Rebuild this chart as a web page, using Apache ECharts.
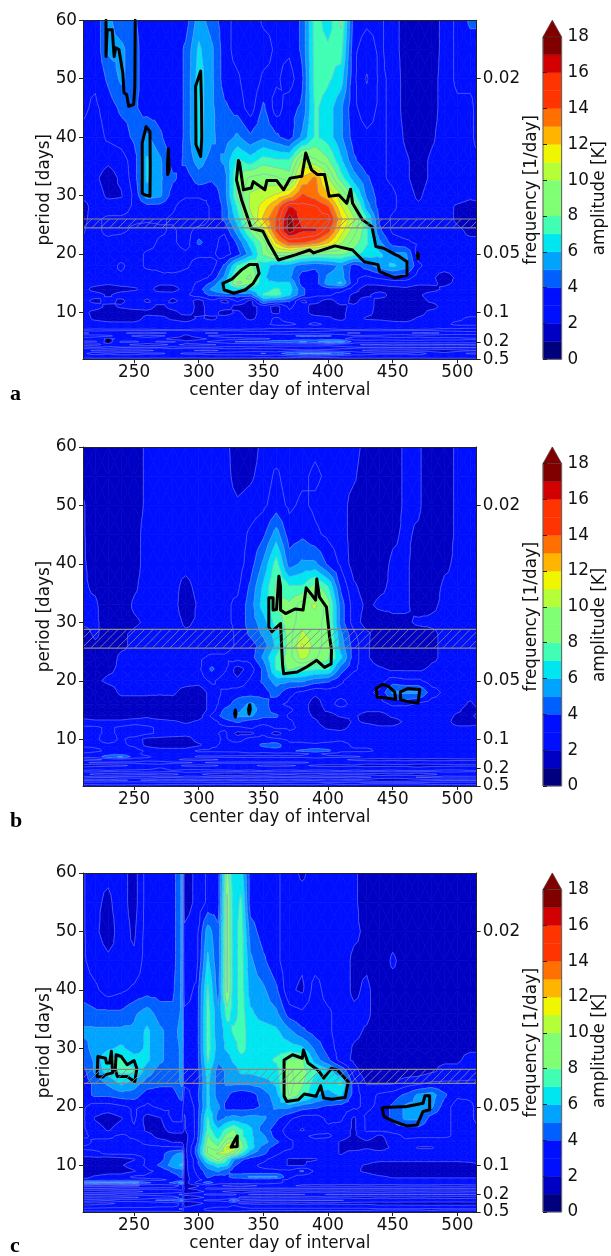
<!DOCTYPE html>
<html><head><meta charset="utf-8">
<style>html,body{margin:0;padding:0;background:#fff}#c{width:611px;height:1256px}</style>
<script src="https://cdn.jsdelivr.net/npm/echarts@6/dist/echarts.min.js"></script>
</head><body><div id="c"></div>
<script>
// ---- shared axes / tick data
const periodNodes=[60,55,50,45,40,36,33,30,28,26,24,22,20,18,16,15,14,13,12,11,10,9,8,7.5,7,6.5,6,5.5,5,4.5,4,3.5,3,2.5,2];
const dayNodes=[210,220,230,240,250,260,270,280,290,300,310,320,330,340,350,360,370,380,390,400,410,420,430,440,450,460,470,480,490,500,510,515];
const dayNodesC=[210,220,230,240,250,260,270,280,287,289,298,307,315,322,327,333,340,350,360,370,380,390,400,410,420,430,440,450,460,470,480,490,500,510,515];
const dayTicks=[250,300,350,400,450,500];
const periodTicks=[10,20,30,40,50,60];
const freqPeriods=[2,5,10,20,50];
const freqLabels=['0.5','0.2','0.1','0.05','0.02'];
const ampTicks=[0,2,4,6,8,10,12,14,16,18];
const levelColors=['#00007f','#0000c4','#0010ff','#0010ff','#0060ff','#00a4ff','#00e6f0','#40ffb4','#80ff74','#80ff74','#b4ff38','#f0f500','#ffb400','#ff7000','#ff3400','#ff3400','#d20000','#800000'];
const overValue=18.93;

// ---- panel a
const ampA=[
[3,3,5,4.5,4,3,3,3,3.5,5.5,4.5,3.5,2.5,2,3,3,3,4,7.5,6.5,8,3.5,3,3,2.5,1.5,1,1,2.5,3,4,4],
[3,3,5,5,4.5,3,3,3,4,6,5,3.5,2.5,2,2.5,3,3,4,7.5,7,7.5,3,2.5,3,2.5,1.5,1,1.2,2.5,3,3.5,3.5],
[3,3,4,5,4.5,3.2,3,3,4,6.5,5,3.5,3,2,3,3,2.5,3.8,7.5,7,6.5,3,1.9,3,2.8,1.5,1,1.5,2.5,3,3,3],
[3,2.8,3.5,4,4.2,3.5,3.5,3,4,6.5,5,4,3.6,2.5,4.2,2.5,3.6,4.2,7,6.5,5,3,2.5,3,2.8,1.5,1,1.5,2.5,2.8,2.8,3],
[2.8,2.5,3,3.5,4,5,4,3.2,4,6.5,5,4.5,5,4,4.8,4,3.5,5,7,6.5,5.2,3.5,3,3,2.8,1.8,1.2,1.8,2.5,2.8,2.8,3],
[2.5,2.5,2,2.5,3.5,6,5,3.5,4,5.5,4.5,5,7,6.5,7.5,7,7,10,9,8,6,4,3.2,3,2.8,2,1.5,2,2.5,2.8,2.8,2.8],
[2.5,2.2,1.5,2,3.5,6,5,4,3.5,4.5,4,4.5,8,9,9.5,9,8.5,12,13,10,7.5,5.5,4,3,2.8,2.2,1.5,2.2,2.5,2.5,2.5,2.5],
[2,2.5,1.8,1.9,3,5.5,5,3.5,3,3,3.2,4.5,8,10,10.5,11,12,14,13.5,12,10,7.5,4.8,3.5,3,2.5,1.8,2.5,2.5,2.5,2.2,2],
[1.5,2.5,2.5,2.5,3,3.5,3.5,3,2.2,2,3,4.2,7,10,11.5,13,16,15.5,15,14,11,9,5.5,3.5,3,2.5,2.2,2.5,2.5,1.8,1.6,1.8],
[1.5,2.8,3,3,3,3,3,2.8,2,2.2,3,4,6.5,9.5,12,14,17.5,15.5,15,15.5,12,10,7,3.8,2.8,2.5,2.5,2.5,2.5,1.8,1.5,1.5],
[1.8,2.8,3,3,2.8,2.5,2.8,3,2.5,3.5,3,3,5.5,8,10.5,14,17.5,16,16,14.5,11.5,9.5,7,4,2.8,2.5,2.5,2.5,2.5,2,1.8,1.8],
[2,2.8,2.8,2.5,2,2.5,3,3,2.5,4.2,3.5,2.5,4,6.5,8.5,12,14,14,13.5,12,10,8.5,7,5,3.5,3,2.8,2.5,2.8,2.2,2,2],
[2.5,2.8,2.5,2.5,2.5,3,3,3.5,3,3,3,2.5,3.5,5.5,8,9.5,9.5,8.5,8,8,8,7.5,6.5,6,5,5,2.5,2.5,2.5,2.5,2.5,2.5],
[2.5,2.5,2.5,3,2.5,3,3,3.8,3.2,2.5,2.5,4,7,8.5,6.5,5.5,5.5,4.5,4.2,4.5,5,3.5,4.5,5.5,6,5.5,3,2.5,2.5,2.5,2.5,2.5],
[2.5,2.5,2.8,2.8,2.5,2.5,2.8,2.5,2.5,2.5,3,5,8.5,9,6,5,5,3.5,3.5,5,5.5,3,2.8,3,3.5,3.5,2.5,2,1.5,2,2.5,2.5],
[2.5,2.5,2,2.5,2.5,2.5,2,2,2.5,3,4,6,9,8.5,6,6,6,3.5,3.5,5.5,6,3,2,2,2.5,2.5,2.2,2,1.8,2,2.5,2.5],
[2.5,1.5,1.2,1.5,1.8,2.5,1.5,1.6,2.4,3.5,5,6,6.5,6,6.5,7,6.5,4,3,3.5,3.5,2.4,1.4,1.6,1.6,1.8,1.5,1.6,2.2,2.5,2.5,2.5],
[2.5,2.6,1.8,2.6,2.6,2.4,2.6,2.4,2.8,3.5,4,4.5,4.5,4.5,7,7.5,6,4,3,3,2.5,1.8,1.8,2.5,1.6,1.6,1.8,2.5,2.5,2.5,2.5,2.5],
[2.5,1.6,2.5,1.7,2.8,1.8,2.8,1.7,2.5,1.6,2.8,1.6,3,1.7,5,4.5,4,1.8,2.5,1.5,2.5,1.7,2.5,1.6,1.7,1.4,1.6,2.2,2.5,2.8,2.8,2.8],
[2.5,2.6,1.6,2.2,2.6,2.6,1.6,2.5,2.8,1.6,2.5,2.6,1.6,1.5,2.5,1.6,3,2.5,1.5,1.3,1.8,2.2,2.5,1.6,1.3,1.7,1.6,1.5,2.5,2.8,2.8,2.8],
[2.5,1.5,1.2,1.3,1.3,1.6,1.3,1.6,2.5,1.6,2.5,1.5,2.2,1.5,2.5,1.7,2.8,2.5,1.5,1.5,1.7,2.5,2.5,1.4,1.5,1.5,1.4,2.5,2.5,2.5,2.5,2.5],
[2.8,1.6,1.3,1.2,1.2,2.5,2.5,1.7,1.3,2.2,1.7,2.5,2.5,1.7,2.5,3,2.5,2.5,2.5,2.2,1.6,2.8,1.8,1.7,1.5,1.3,2.2,2.5,2.8,2.8,3,3],
[2.8,2.8,2.5,2.5,2.5,2.8,2.5,2.8,2.5,2.8,2.8,2.5,2.8,2.8,2.8,3,3,2.8,3,2.8,2.8,2.5,2.8,2.8,2.5,2.5,2.8,2.8,2.8,3,3,3],
[2.2,2.4,2.6,2.6,2.6,2.4,2.2,2.4,2.6,2.4,2.4,2.6,2.4,2.2,2.4,2.6,2.6,2.4,2.6,2.6,2.4,2.2,2.4,2.6,2.2,2.2,2.4,2.6,2.6,2.6,2.6,2.6],
[3.3,3.4,3.2,3.2,3.2,3.3,3.2,3.1,3.1,3.3,3.2,3.2,3.2,3.4,3.4,3.6,3.6,3.4,3.4,3.3,3.2,3.2,3.2,3.2,3.2,3.2,3.2,3.2,3.4,3.4,3.6,3.6],
[1.8,2.2,2.4,2.2,1.7,1.6,1.8,2.2,2.4,2.2,1.8,2.2,2.4,2.4,2.4,2.6,2.4,2.4,2.6,2.4,2.2,1.8,2.2,2.4,2.4,2.2,1.8,1.7,2.2,2.4,2.4,2.4],
[3.6,3.4,3.2,2.6,3.1,3.4,3.2,2.7,1.8,2.4,3.2,3.4,3.6,3.6,3.7,3.7,3.8,4.2,4.1,4.1,3.7,3.2,3.2,3.2,3.4,3.6,3.4,3.6,3.6,3.6,3.6,3.6],
[2.4,2.4,1.8,2.2,2.4,2.6,2.4,1.6,1.5,1.7,2.2,2.6,2.6,2.8,2.8,3.2,3.2,3.4,3.4,3.4,3.2,2.6,2.4,2.6,2.6,2.4,2.4,2.6,2.6,2.6,2.8,2.8],
[3.2,3.2,1.5,3.2,3.2,2.6,3.2,3.2,2.2,2.6,3.2,3.6,4.1,4.2,4.2,4.6,4.6,5.1,4.8,5.6,5.6,3.6,3.6,3.6,3.6,3.6,3.6,3.6,3.6,3.6,3.6,3.6],
[1.6,1.7,2.4,2.4,1.8,1.6,1.7,2.2,1.8,1.8,1.9,2.2,2.4,2.4,2.4,2.6,2.4,2.4,2.4,2.6,2.4,2.2,1.8,1.9,1.7,1.8,1.8,1.8,1.9,1.9,1.8,1.8],
[3.4,3.2,3.4,3.1,3.2,3.2,3.1,3.4,3.2,3.2,3.2,3.4,3.4,3.2,3.4,3.4,3.6,3.7,3.7,3.7,3.4,3.2,3.1,3.2,3.1,3.2,3.1,3.1,3.1,3.1,3.1,3.1],
[2.4,1.8,1.7,1.6,1.7,1.8,2.2,2.4,2.2,1.9,1.8,2.2,2.4,2.6,2.4,2.4,2.6,2.8,2.8,2.6,2.4,2.4,1.8,1.7,1.6,1.6,1.7,1.6,1.5,1.7,1.9,1.9],
[2.7,3.6,3.2,3.6,3.6,3.2,3.2,2.7,3.2,3.2,3.6,3.6,3.6,3.6,4.1,3.6,4.6,5.1,5.1,5.1,4.6,3.8,3.6,3.2,3.2,3.2,3.6,2.6,2.2,2.6,3.2,3.2],
[2.4,2.2,2.2,2.4,2.2,2.2,2.4,2.2,2.4,2.4,2.2,2.4,2.4,2.4,2.6,2.4,2.6,2.8,2.8,2.6,2.4,2.2,2.4,2.2,2.4,2.2,2.4,2.2,2.2,2.2,2.2,2.2],
[3.5,3.5,3.5,3.5,3.5,3.5,3.5,3.5,3.5,3.5,3.5,3.5,3.5,3.5,3.5,3.5,3.5,3.5,3.5,3.5,3.5,3.5,3.5,3.5,3.5,3.5,3.5,3.5,3.5,3.5,3.5,3.5]];
const bandA=[24.5,26];
const contoursA=[
[[228.3,60],[228.3,53.8],[229.2,58.4],[233.1,58.4],[234.6,53.8],[235.8,55.3],[238.3,55],[241.3,51],[242.2,47.6],[244.3,47.3],[245.8,45.3],[249.7,45.6],[250.6,48.7],[250.9,60]],
[[259.3,41.8],[262.3,41],[262.5,35],[262.3,29.9],[258.4,30.1],[256.3,30.4],[256.3,39],[259.3,41.8]],
[[276.5,38],[275.8,35],[276,33.6],[277.2,34.5],[276.5,38]],
[[301.5,51.3],[302.1,46.4],[302.4,40.1],[301.5,36.7],[297.9,38.7],[297.6,48.7],[301.5,51.3]],
[[330.7,36],[329.2,32.7],[333.1,29.3],[336.7,27],[340.7,24.4],[349.7,23.9],[354.2,21.9],[361.7,19],[375.3,19.9],[385.8,20.7],[388.9,20.2],[405.4,21.4],[419,20.7],[428,18.7],[438.6,18.2],[440,17],[452.1,15.9],[461.1,16.4],[461.1,18.7],[455.1,19.6],[452.1,19.9],[443.1,21],[437,21.3],[434,24.7],[426.5,25.9],[419,28.7],[417.5,31.1],[414.5,28.7],[408.4,30.1],[400.9,29.9],[397.3,33.6],[391.9,33.6],[387.3,34.4],[382.8,37.3],[379.8,33.3],[370.8,33],[365.7,31],[360.2,32.6],[352.7,32.6],[351.2,31],[342.2,32.4],[340.7,31.3],[334.6,31],[331.6,35.6],[330.7,36]],
[[318.7,15],[325.6,15.7],[333.1,17.3],[339.2,18.2],[345.2,18.2],[346.7,16.7],[342.2,15],[336.1,13.9],[327.1,13.3],[319.6,13.9],[318.7,15]],
[[469.5,20.2],[470,19.7],[469.6,19.2],[469.2,19.7],[469.5,20.2]],
[[230,5.3],[230.4,5.2],[230,5.1],[229.6,5.2],[230,5.3]]];

// ---- panel b
const ampB=[
[1.5,1.2,1.2,1.2,1.5,2,2.2,2.5,2.5,2.5,2.5,2.5,1.2,1.2,2.5,2.5,2.5,2.5,2.8,2.5,2.5,2.5,1.5,1.2,1.5,2,2,1.2,1.5,2,2.5,2.8],
[1.5,1.2,1.2,1.2,1.5,2,2.2,2.5,2.5,2.5,2.5,2.5,1.5,1.8,2.5,3,2.5,2.8,3,2.8,2.5,2.2,1.2,1.2,1.5,2,2,1.2,1.5,2,2.5,2.8],
[2,1.2,1.2,1.2,1.5,2.2,2.5,2.5,2.5,2.8,2.5,2.5,2,2.5,2.8,3.5,2.8,3,2.8,2.5,2.5,1.5,1.2,1.2,1.5,2,2,1.2,1.5,2,2.5,2.8],
[2,1.2,1.2,1.2,1.5,2.5,2.5,2.5,2.5,2.8,2.8,2.5,2.5,3,3.8,5.5,3.5,3.8,3.2,2.8,2.5,1.5,1.2,1.2,1.8,2,1.8,1.2,1.5,2,2.5,2.8],
[2,1.5,1.2,1.2,1.5,2.5,2.5,2.5,2.5,2.8,2.8,2.8,2.5,3.5,5,7.5,4.5,5,5,3.8,2.8,1.5,1.2,1.5,2,2,1.5,1.2,1.8,2.2,2.5,2.8],
[2,1.8,1.2,1.2,1.8,2.5,2.5,2.5,1.5,2.5,2.5,2.8,2.8,4,6,8,7,7,8.5,7,3.8,2,1.5,1.8,2,2,1.5,1.5,2,2.2,2.5,2.8],
[2.2,2,1.2,1.2,2,2.5,2.5,2.5,1.2,2.2,2.8,2.8,3,4.5,6.5,8,8,9.5,10,8.5,4.5,2.5,1.8,2,2,2,1.5,1.8,2,2.2,2.5,2.8],
[2,2.2,1.5,1.5,1.8,2,2.5,2.5,1.8,2,2.5,2.8,3,4.5,5.5,7.5,8.5,9.5,9.5,8.5,4.5,2.5,1.5,1.5,1.8,1.8,2,2,2.2,2.5,2.5,2.8],
[1.5,2,1.5,1.8,2,2.5,2.5,2.5,2.2,2.2,2.5,2.5,3,4,5,6.5,8.5,10,9.5,8.5,5,3,2,1.5,1.5,1.5,1.5,1.8,2,2.5,2.5,2.5],
[1.2,1.8,1.5,1.8,2.2,2.5,2.5,2.5,2.5,2.5,2.5,2.5,3,3.5,4.5,6,8.5,11,9.5,8.5,5.5,3.5,2,1.2,1.2,1.2,1.5,1.8,2.2,2.5,2.5,2.5],
[1.2,1.5,1.5,2,2.2,2.5,2.5,2.5,2.5,2.8,3,3.2,3.5,3.5,5,7,8.5,10.5,9,8,6,3.5,2,1.2,1.2,1.2,1.2,1.8,2.2,2.5,2.5,2.5],
[1.2,1.5,1.8,2,2.2,2.5,2.5,2.5,2.5,2.8,4,3,1.5,2.5,4,7,8,7.5,7,7,4.5,3,2.5,2,1.8,1.8,1.8,2,2.2,2.5,2.5,2.5],
[1.8,1.8,2,2.2,2.5,2.5,2.5,2.5,2.5,2.5,3,2.5,2,3,4,5.5,5,5,4.5,4,3,2,2.5,2.5,3.5,3.2,3,2.5,2.5,2.5,2.5,2.5],
[1.5,1.2,1.5,2,2,2,2,2,1.5,1.2,2.5,3,3.5,3.5,3.5,4.5,3,2.8,2,2.5,2.5,2.5,2.8,3,5,5,5,3.5,2.8,2.5,2.5,2.5],
[1.2,1.2,1.2,1.5,1.5,1.5,1.2,1.5,1.2,1.2,2.5,3.5,4.5,5,4.5,3,2.8,2.5,1.5,2.5,3.5,2.5,2.5,2.5,3,3,2.8,2.5,2.5,2.5,1.8,2],
[1.2,1.2,1.2,1.5,1.5,1.2,1.2,1.2,1.2,1.2,2.5,4,4.8,5.5,4.5,3.5,3,2.5,1.5,2,2.5,2.5,2,2,2.5,2.5,2.5,2.5,2.5,2,1.5,1.8],
[1.5,1.5,1.5,1.5,1.5,1.8,1.2,1.2,1.2,1.5,3,4.5,5,5,4,4.2,2.8,2.5,1.8,1.5,2,2.2,1.5,1.5,2,2.5,2.5,2.5,2.5,1.8,1.8,2],
[2.5,2,2,2,2.5,2.5,2.5,2,1.8,2,2.5,3.5,4,3.5,3.5,3.5,3,2.5,2,1.2,1.2,2,1.8,1.5,1.5,2.2,2.5,2.5,2.5,1.5,1.5,1.8],
[3,3,2.8,3,3.5,3,2.8,2.5,2.5,2.5,2.8,2.8,2.8,3,2.5,3,3,2.8,2.5,1.8,1.5,2.5,2.5,2,2.2,2.5,2.8,2.8,2.5,2.2,2,2],
[3,3,2.8,3.2,3.8,3,2.8,2.8,2.5,2.5,2.8,3,1.7,1.7,2.8,1.5,2.8,2.8,2.5,2.5,2.5,2.8,2.8,2.5,2.5,2.8,2.8,2.5,2.5,2.5,2.5,2.5],
[3,3,2.5,3,2.5,1.7,1.6,1.4,1.4,2.5,2.5,3,2.5,3.5,3.5,3,2.8,2.8,2.5,2.5,2.8,2.5,2.5,2.5,2.5,2.5,2.8,2.2,2.5,2.8,2.5,2.5],
[3,3,3,3,2.8,1.7,1.4,1.4,1.4,1.8,2.8,3,3.5,3.5,4.2,4.5,3,3,3,3.5,3.5,2.8,2.8,2.8,2.5,2.5,2.5,2.5,2.5,2.5,2.5,2.5],
[2.5,2.8,3,3.5,3.5,2.8,2.5,2.5,2.5,3,3,3,3,3.5,3.5,3.5,3.8,4,4.5,4,3.2,3,3,2.8,2.5,2.5,2.5,2.5,2.5,2.5,2.5,2.5],
[3.2,3.4,3.6,3.6,3.4,2.6,2.4,2.4,2.4,2.6,2.4,2.6,2.6,2.8,2.6,2.8,2.6,2.8,3.2,2.8,2.6,2.4,2.4,2.2,2.2,2.2,2.4,2.2,2.2,2.2,2.2,2.2],
[3.5,3.5,4.5,5,3.5,3,2.5,2.5,2.5,3,3,3,3,3,3,3.2,3,3,3.5,3.2,3,3,2.8,2.5,2.5,2.5,2.5,2.5,2.5,2.5,2.5,2.5],
[1.6,1.8,2.2,2.4,2.4,2.6,2.4,2.2,1.8,1.7,1.8,2.2,2.4,2.4,2.2,2.4,2.4,2.2,2.4,2.4,2.2,1.8,1.7,1.7,1.8,1.7,1.8,1.7,1.7,1.8,1.8,1.8],
[2.8,3,3,3.2,3,3.5,3.5,3,3,2.8,3,3,3,3.2,3,3,3,3,2.8,2.8,2.8,2.8,2.5,2.5,2.5,2.5,2.5,2.5,2.5,2.5,2.5,2.5],
[1.5,1.6,1.7,1.8,2.2,2.4,2.6,2.4,1.8,1.7,1.8,2.2,2.2,2.2,1.8,1.7,1.8,2.2,1.8,1.7,1.7,1.8,1.5,1.6,1.7,1.8,1.5,1.6,1.7,1.8,1.8,1.8],
[2.6,2.7,2.8,2.8,2.8,2.8,3.1,2.8,2.8,2.8,2.8,2.8,2.8,2.8,2.6,2.8,2.8,2.8,2.8,2.6,2.6,2.8,2.8,2.8,2.8,2.4,2.4,2.8,2.8,2.8,2.8,2.8],
[3.2,3.3,3.1,3.2,3.2,3.4,3.2,3.1,3.3,3.3,3.2,3.2,3.1,3.2,3.1,3.2,3.2,3.1,3.2,3.3,3.1,3.2,3.1,3.1,3.2,3.2,3.2,3.1,3.2,3.2,3.1,3.1],
[2.4,1.7,1.5,1.6,1.7,1.8,1.6,1.7,2.4,2.2,1.5,1.3,1.2,1.5,1.5,1.8,1.9,1.5,1.5,1.8,1.7,1.8,1.7,1.6,1.8,1.7,1.3,1.7,2.4,2.2,2.2,2.2],
[3.4,3.2,3.2,3.4,3.4,3.6,3.2,3.2,3.4,3.4,3.2,3.2,3.4,3.2,3.4,3.2,3.2,3.4,3.2,3.2,3.2,3.4,3.2,2.6,2.4,2.6,3.1,3.2,3.4,3.4,3.4,3.4],
[1.8,1.7,1.6,1.8,2.2,1.8,1.6,1.7,1.6,1.8,1.7,1.6,1.8,1.7,1.8,1.6,1.6,1.7,1.8,1.5,1.6,1.7,1.5,1.2,1.2,1.3,1.5,1.7,1.8,1.8,1.8,1.8],
[3.6,3.6,3.8,3.8,3.6,3.8,3.6,3.5,3.5,3.6,3.4,3.4,3.6,3.5,3.4,3.6,3.4,3.6,3.6,3.2,3.4,3.6,3.2,3.2,3.2,3.2,3.2,3.4,3.5,3.6,3.6,3.6],
[2.5,2.5,2.5,2.5,2.5,2.5,2.5,2.5,2.5,2.5,2.5,2.5,2.5,2.5,2.5,2.5,2.5,2.5,2.5,2.5,2.5,2.5,2.5,2.5,2.5,2.5,2.5,2.5,2.5,2.5,2.5,2.5]];
const bandB=[25.6,28.8];
const contoursB=[
[[354.2,34.2],[357.5,34.2],[357.5,32.1],[360.2,32.2],[362,37.9],[363.3,36.1],[363.3,32.1],[367.2,31.5],[374.7,32.3],[380.7,32.1],[383.1,35.9],[386.7,34.9],[390.4,33.8],[391.3,37.4],[393.4,34.3],[398.8,32.6],[401.2,27.5],[402.7,25.2],[402.4,22.9],[397.3,22.3],[391.3,23.5],[383.7,22.4],[376.2,21.5],[365.7,21.2],[364.8,22.9],[363.3,29.8],[356.6,28.4],[354.2,29.2],[354.2,34.2]],
[[437.3,18.7],[442.5,19.4],[447,19],[451.5,18.1],[452.4,16.8],[444,17.1],[438,17.2],[437.3,18.7]],
[[456,18.1],[462,18.7],[471,18.5],[469.6,16.2],[462,16.4],[456,16.8],[456,18.1]],
[[328.3,15],[328.8,14.4],[328.3,13.8],[327.8,14.4],[328.3,15]],
[[339.5,15.9],[339.9,15.1],[339,14.3],[338.5,15.1],[339.5,15.9]]];

// ---- panel c
const ampC=[
[3,2,2,2.5,1.5,3.5,3.5,3.5,5,1.5,2,3,3.5,8.5,6,6.5,3.5,3,3,2.5,1.8,2.5,2.5,2.5,2,1.5,1.2,1.2,1.2,1.2,1.2,1.2,1.5,1.5,1.5],
[3,2,1.8,2.5,1.5,3.5,3.5,3.5,5,1.5,2,3,3.5,9,6.5,7,3.5,3,3,2.5,2.5,2.5,2.5,2.5,2,1.5,1.2,1.2,1.2,1.2,1.2,1.2,1.5,1.5,1.5],
[3,2,1.5,2.5,1.8,3.5,3.5,3.5,5,2,2.5,5.5,4,9,6.5,7.5,4.5,3.5,3,2.5,2.5,2.5,2.5,2.5,2,1.8,1.2,1.5,1.2,1.2,1.2,1.2,1.5,1.5,1.5],
[3,2.5,2,2.2,2,3.5,3.5,3.5,5,2,2.5,6,4,9,6.5,7.5,5,4.2,3.2,2.5,2.2,2.5,2.5,2.5,1.8,1.8,1.2,2,1.5,1.5,1.2,1.2,1.5,1.8,1.8],
[3.5,3,2.5,2.8,3,3.5,3.5,3.8,5,2.5,3,7,4.5,9,6.5,7.5,5.5,5,4,2,1.8,3.5,2.5,2.5,1.8,2,1.5,1.5,1.5,1.5,1.2,1.2,1.5,1.9,1.9],
[4.5,4,4,4.2,4.8,5.5,4.5,4,5,3,3,7.5,5,7.5,6.5,7.5,6,5.5,5,3.5,3,3.5,3,2.5,2,2.2,1.5,1.5,1.5,1.5,1.5,1.5,1.5,1.9,1.9],
[5,5,5,5,5,6,5,4.5,5.5,3,3,7.5,5,6.5,7,7.5,6.5,6.5,6,5,4,3.5,3,2.5,2,1.9,1.5,1.5,1.5,1.5,1.5,1.8,1.8,1.9,1.9],
[4.5,5.5,5.8,6,5.5,6,5,4.5,5,3,3,7.5,5.5,6,6.5,7.5,6.5,6.5,6.5,6.5,6,4.8,3.5,2.5,1.9,1.8,1.5,1.5,1.5,1.5,1.8,1.8,1.9,1.9,1.9],
[4,5,7,7,6.5,6,5,4.5,5,3,3,7,5,5.5,6,6.5,6.5,6.5,7,8,8,5.5,4,2.5,1.8,1.2,1.2,1.5,1.5,1.5,1.9,1.9,1.9,2.2,2.2],
[3.5,5,6.5,7,7,5.5,4.5,4.5,5,3,3,6.5,4.5,5,5.5,6,6,6.5,6.5,9,8.5,7,6.5,5,2.5,1.2,1.2,1.5,1.5,1.5,1.9,2.2,2.2,2.5,2.5],
[3.5,4,5,6,5.5,4.5,4,4,5,3,3,6,4.5,5,5,5,5,5.5,6,9.5,8,6.5,6.5,7,3.5,1.9,1.9,1.9,2.5,2.8,3,3,3,3,3],
[3.5,4,4,4.5,4.5,3.5,3.5,3.5,4.5,2.5,3.5,6,4.5,4,3.5,3,3.5,4.5,5.5,9,7.5,6,5.5,6,3.5,2.5,3,3.5,4,5,5.5,4,3,3,3],
[3,2.5,2.5,2.8,3,2.8,3,3,3.5,2,3,6,5,3.5,3.5,3.5,3.5,4,5,5,4.5,4,3.8,3.5,3,2.8,3,4,5,5,5,3.5,2.5,2.8,3],
[3,1.9,1.5,1.9,3,1.5,1.9,3,3,1.9,3,7,4.5,5,5.5,5,5.5,5,4,3,2.5,2.5,3,3,1.8,3,3.5,4,5,5,3.5,3,2.8,2.8,3],
[3,2.5,1.9,2.5,2.8,1.8,1.5,2.5,2.5,1.9,3,7.5,6,7.5,8,7,6,4.5,3.5,2.5,1.9,2.5,2.8,2.5,1.8,3,3,3.5,3.5,3.5,3,3,2.8,2.5,2.8],
[3,2.8,2.8,3,2.8,2.5,1.5,1.5,1.5,1.5,3,8,6.5,8.5,8.5,7,6,5,3.5,2.8,2.8,3,3,2.5,1.8,2.5,1.8,2.5,3,3,3,3,2.8,2.5,2.5],
[2.5,3,3,3,3,2.8,2.5,1.9,1.9,1.5,3.5,8.5,7.5,9.5,10,8,6,5.5,4,3,2.5,2.8,2.5,1.9,1.5,1.9,1.5,2.5,2.8,2.5,2.5,2.5,2.5,2.5,2.5],
[3,3,3,3,3,3,3,3.2,3.2,1.5,4,9,8,11,11,8.5,6.5,4.5,3.5,3,2.5,2.5,2.5,1.9,1.5,1.9,1.5,2.2,2.5,1.9,1.9,2.5,2.5,2.5,2.5],
[2.5,2.8,3,3,3,3.5,3.5,4.8,5,1.5,4,9,10,10,9,7,5,4,3,2.5,2.5,2.5,2.5,1.9,2.5,2.5,2.5,2.5,2.5,2.5,2.5,2.5,2.5,2.5,2.5],
[1.5,1.5,1.2,1.5,1.9,3,3.5,5,5.5,1.5,3.5,7,9,7,5,4,3.5,3,2.5,1.9,1.9,1.9,2.5,2.5,2.5,2.5,2.5,2.5,2.5,2.5,2.5,2.5,2.5,2.5,2.5],
[1.5,1.2,1.5,1.9,2.5,3,4,5.5,6,1.5,3.5,5.5,6.5,6,4,3.5,3,2.8,2.5,1.9,1.9,2.5,2.5,2.5,2.2,1.9,1.2,1.2,1.2,1.2,1.2,1.2,1.2,1.5,1.8],
[1.2,1.2,1.5,1.5,1.9,2.8,3.2,4,4.5,1.5,3,4.5,5,4,3.5,3.5,3.2,3,3,3,4,2.8,2.5,2.5,2.2,1.8,1.2,1.2,1.2,1.2,1.2,1.2,1.2,1.9,1.9],
[1.5,2.2,2.5,2.5,3,3,3.5,3.5,4,1.5,2.8,4,3.5,3.8,4.5,4.5,5,5,5,3,2.5,2.5,2.5,2.5,2.5,2.5,2.2,1.9,1.9,1.9,1.9,1.9,1.9,1.9,1.9],
[2.4,2.4,2.6,2.6,2.6,2.8,2.8,3.2,3.4,1.5,2.6,3.4,3.2,3.2,3.2,3.2,3.4,3.4,3.2,2.8,2.4,2.4,2.4,2.4,2.2,2.2,2.2,2.2,2.2,2.2,2.2,2.2,2.2,2.2,2.2],
[5.5,5.5,5,5.5,5.5,4,3.5,4,5.5,1.5,3,4.5,3.5,3.5,3.5,3.5,3.5,3.5,3,2.8,2.5,2.5,2.5,2.5,2.5,2.5,2.5,2.5,2.5,2.5,2.5,2.5,2.5,2.5,2.5],
[1.6,1.5,1.5,1.6,1.7,2.4,2.6,2.6,3.2,1.5,1.8,2.6,2.2,1.8,1.6,1.5,1.8,2.2,2.2,2.2,1.8,1.7,1.8,1.7,1.7,1.8,1.7,1.7,1.8,1.8,1.8,1.7,1.7,1.8,1.8],
[3.2,3.2,3.2,3.5,3.5,3,3,3,3.5,1.9,2.2,3,3.2,3.2,3.2,3.2,3.2,3.2,3.2,3.2,3.2,3.2,3.2,3.2,3.2,3.2,3.2,3.2,3.2,3.2,3.2,3.2,3.2,3.2,3.2],
[1.5,1.5,1.6,1.7,1.6,2.2,2.4,2.4,2.6,1.4,1.6,2.2,2.2,1.8,1.5,1.4,1.7,1.8,1.7,1.6,1.7,1.8,1.7,1.8,1.7,1.7,1.6,1.7,1.7,1.8,1.7,1.7,1.7,1.8,1.8],
[3.2,3.2,3.2,3.6,3.3,3.3,3.3,3.6,4.2,2.2,2.6,3.2,3.2,3.2,3.2,2.6,3.1,3.1,3.1,3.1,3.1,2.6,3.1,3.1,3.1,3.1,3.1,3.1,3.1,3.1,3.1,3.1,3.1,3.1,3.1],
[1.7,1.7,1.6,1.7,1.8,2.4,2.6,2.6,3.2,1.4,1.6,2.2,2.2,2.2,2.4,1.8,1.7,1.8,1.7,1.8,1.7,1.7,1.8,1.7,1.7,1.6,1.8,1.7,1.7,1.8,1.7,1.7,1.6,1.7,1.7],
[3.6,3.4,3.2,3.6,3.6,3.6,4.2,4.2,5.2,2.2,2.6,3.2,3.2,3.6,5.2,3.6,3.4,3.2,3.2,3.2,3.1,3.1,3.1,3.1,2.6,2.6,2.6,2.6,2.6,2.6,2.6,2.6,2.6,2.6,2.6],
[1.7,1.8,1.8,2.2,2.2,2.4,2.4,2.6,3.2,1.4,1.7,2.2,2.4,2.2,2.4,1.8,1.8,1.7,1.8,1.8,1.7,1.8,1.8,1.7,1.7,1.7,1.6,1.7,1.6,1.6,1.5,1.6,1.5,1.6,1.6],
[2.2,2.2,2.5,2.5,2.5,2.5,2.8,2.8,3.2,1.8,2.2,2.5,2.8,2.8,3.2,2.8,2.5,2.5,2.5,2.5,2.5,2.5,2.5,2.5,2.5,2.5,2.2,2.2,2.2,2.2,2.2,2.2,2.2,2.2,2.2],
[3.3,3.4,3.4,3.5,3.5,3.6,3.6,3.6,4.2,2.4,2.6,3.2,3.4,3.4,3.6,3.4,3.2,3.2,3.2,3.2,3.2,3.2,3.2,3.2,3.2,3.2,3.1,3.1,3.1,3.1,3.2,3.1,3.1,3.1,3.1],
[2.8,2.8,2.8,2.8,2.8,2.8,2.8,2.8,2.8,2.8,2.8,2.8,2.8,2.8,2.8,2.8,2.8,2.8,2.8,2.8,2.8,2.8,2.8,2.8,2.8,2.8,2.8,2.8,2.8,2.8,2.8,2.8,2.8,2.8,2.8]];
const bandC=[24,26.4];
const contoursC=[
[[221.4,25.2],[222,28.6],[228,28.3],[228.6,27.5],[231,27.5],[232.5,29.5],[233.4,25.8],[228,25.5],[225.6,25.1],[221.4,25.2]],
[[236.1,28.9],[240.1,28.6],[244.6,27.2],[250,27.9],[252.1,26.6],[250.6,24.3],[244.6,25.2],[237,25.2],[235.5,26.3],[236.1,28.9]],
[[366,28],[372.6,28.9],[380.1,28.3],[381,29.7],[384.6,27.5],[392.2,26.3],[396.7,24.9],[402.7,26.6],[407.2,26.3],[415.7,24.3],[413.3,21.6],[402.7,21.3],[396.7,21.5],[394.3,23.6],[390.7,21.8],[381.6,22.2],[377.1,21.2],[368.1,20.9],[366,21.8],[366,28]],
[[443.4,19.9],[456.9,20],[459.9,20],[473.5,20.6],[475,21.9],[478.6,21.9],[478.6,19.5],[473.5,19.2],[469,16.9],[461.4,16.7],[450.9,17.5],[443.4,18.3],[441.9,19.8],[443.4,19.9]],
[[329.8,15],[329.8,13.2],[325,13.1],[327.4,14.1],[329.8,15]]];

// ---- layout
const plotLeft=83,plotWidth=393.7,plotHeight=339,barLeft=543,barWidth=18.6,barInset=16.6;
const panelTops=[20.3,447,873];
const panelNames=['a','b','c'];
const letterTops=[383,810,1235];
const FONT='"DejaVu Sans"',FS=16.8,TXT='#111';

// a value sitting exactly on a contour level would hug the grid, so nudge it just off
const offLevel=v=>Number.isInteger(v)?v+0.2:v;

function clip(poly,level,keepAbove){
  const out=[];
  for(let i=0;i<poly.length;i++){
    const a=poly[i],b=poly[(i+1)%poly.length];
    const ina=keepAbove?a[2]>=level:a[2]<=level, inb=keepAbove?b[2]>=level:b[2]<=level;
    if(ina)out.push(a);
    if(ina!==inb){const t=(level-a[2])/(b[2]-a[2]);out.push([a[0]+t*(b[0]-a[0]),a[1]+t*(b[1]-a[1]),level]);}
  }
  return out;
}
function contourCell(tri,api,kids){
  const vs=tri.map(p=>p[2]),mn=Math.min.apply(null,vs),mx=Math.max.apply(null,vs);
  for(let k=Math.max(0,Math.floor(mn));k<levelColors.length&&k<=mx;k++){
    let poly=clip(tri,k,true); if(poly.length<3)continue;
    poly=clip(poly,k+1,false); if(poly.length<3)continue;
    const pts=poly.map(p=>api.coord([p[0],p[1]]));
    kids.push({type:'polygon',silent:true,shape:{points:pts},style:{fill:levelColors[k],stroke:levelColors[k],lineWidth:.7}});
  }
  for(let l=Math.ceil(mn);l<=mx;l++){
    if(l<=0)continue;
    const seg=[];
    for(let i=0;i<3;i++){
      const a=tri[i],b=tri[(i+1)%3];
      if((a[2]<l)!==(b[2]<l)){const t=(l-a[2])/(b[2]-a[2]);seg.push(api.coord([a[0]+t*(b[0]-a[0]),a[1]+t*(b[1]-a[1])]));}
    }
    if(seg.length===2)kids.push({type:'line',silent:true,z2:5,shape:{x1:seg[0][0],y1:seg[0][1],x2:seg[1][0],y2:seg[1][1]},style:{stroke:'rgba(140,150,245,0.7)',lineWidth:.7}});
  }
}
function heatSeries(g,xs,ys,amp){
  const cells=[];
  for(let j=0;j<ys.length-1;j++)for(let i=0;i<xs.length-1;i++)cells.push([xs[i],ys[j],i,j]);
  return {type:'custom',xAxisIndex:g.x,yAxisIndex:g.y,clip:true,silent:true,z:2,animation:false,data:cells,
    renderItem(p,api){
      const i=api.value(2),j=api.value(3);
      const A=[xs[i],ys[j],offLevel(amp[j][i])],B=[xs[i+1],ys[j],offLevel(amp[j][i+1])],C=[xs[i+1],ys[j+1],offLevel(amp[j+1][i+1])],D=[xs[i],ys[j+1],offLevel(amp[j+1][i])];
      const M=[(A[0]+B[0])/2,(A[1]+D[1])/2,(A[2]+B[2]+C[2]+D[2])/4];
      const kids=[];
      [[A,B,M],[B,C,M],[C,D,M],[D,A,M]].forEach(t=>contourCell(t,api,kids));
      return {type:'group',children:kids};
    }};
}
function hatchSeries(g,band,x0,x1){
  return {type:'custom',xAxisIndex:g.x,yAxisIndex:g.y,clip:true,silent:true,z:4,animation:false,data:[[x0,band[0],x1,band[1]]],
    renderItem(p,api){
      const a=api.coord([api.value(0),api.value(3)]),b=api.coord([api.value(2),api.value(1)]);
      const h=b[1]-a[1],kids=[];
      for(let x=a[0]-h;x<b[0];x+=8.8)kids.push({type:'line',shape:{x1:x,y1:b[1],x2:x+h,y2:a[1]},style:{stroke:'rgba(135,135,135,0.85)',lineWidth:1}});
      kids.push({type:'line',shape:{x1:a[0],y1:a[1],x2:b[0],y2:a[1]},style:{stroke:'#8a8a8a',lineWidth:1.2}});
      kids.push({type:'line',shape:{x1:a[0],y1:b[1],x2:b[0],y2:b[1]},style:{stroke:'#8a8a8a',lineWidth:1.2}});
      return {type:'group',children:kids};
    }};
}

const grids=[],xAxes=[],yAxes=[],series=[],graphics=[];
const label={fontFamily:FONT,fontSize:FS,color:TXT};
function addPanel(n,xs,amp,band,contours){
  const top=panelTops[n],gi=grids.length;
  const xMin=210.5,xMax=515;
  grids.push({left:plotLeft,top:top,width:plotWidth,height:plotHeight});
  const xi=xAxes.length,yi=yAxes.length;
  xAxes.push({type:'value',gridIndex:gi,position:'bottom',min:xMin,max:xMax,z:10,splitLine:{show:false},
    axisLine:{onZero:false,lineStyle:{color:'#222',width:1}},
    axisTick:{length:4,lineStyle:{color:'#222'},customValues:dayTicks},
    axisLabel:Object.assign({customValues:dayTicks,margin:5,showMinLabel:true,showMaxLabel:true,hideOverlap:false},label),
    name:'center day of interval',nameLocation:'middle',nameGap:23,nameMoveOverlap:false,nameTextStyle:label});
  xAxes.push({type:'value',gridIndex:gi,position:'top',min:xMin,max:xMax,z:10,splitLine:{show:false},
    axisLine:{onZero:false,lineStyle:{color:'#222',width:1}},axisTick:{show:false},axisLabel:{show:false}});
  yAxes.push({type:'value',gridIndex:gi,position:'left',min:2,max:60,z:10,splitLine:{show:false},
    axisLine:{onZero:false,lineStyle:{color:'#222',width:1}},
    axisTick:{length:4,lineStyle:{color:'#222'},customValues:periodTicks},
    axisLabel:Object.assign({customValues:periodTicks,margin:6,hideOverlap:false},label),
    name:'period [days]',nameLocation:'middle',nameRotate:90,nameGap:30,nameMoveOverlap:false,nameTextStyle:label});
  yAxes.push({type:'value',gridIndex:gi,position:'right',min:2,max:60,z:10,splitLine:{show:false},
    axisLine:{onZero:false,lineStyle:{color:'#222',width:1}},
    axisTick:{length:4,lineStyle:{color:'#222'},customValues:freqPeriods},
    axisLabel:Object.assign({customValues:freqPeriods,margin:6,hideOverlap:false,
      formatter:v=>freqLabels[freqPeriods.indexOf(v)]||''},label),
    name:'frequency [1/day]',nameLocation:'middle',nameRotate:90,nameGap:46,nameMoveOverlap:false,nameTextStyle:label});
  const g={x:xi,y:yi};
  series.push(heatSeries(g,xs,periodNodes,amp));
  contours.forEach(c=>series.push({type:'line',xAxisIndex:xi,yAxisIndex:yi,data:c,showSymbol:false,symbol:'none',z:3,silent:true,animation:false,
    lineStyle:{color:'#000',width:3,join:'round',cap:'round'}}));
  series.push(hatchSeries(g,band,xMin,xMax));
  // colour bar
  const bg=grids.length;
  grids.push({left:barLeft,top:top+barInset,width:barWidth,height:plotHeight-barInset});
  const bx=xAxes.length,by=yAxes.length;
  xAxes.push({type:'value',gridIndex:bg,min:0,max:1,show:false});
  yAxes.push({type:'value',gridIndex:bg,position:'right',min:0,max:18,interval:2,z:10,splitLine:{show:false},
    axisLine:{show:false},
    axisTick:{length:4,lineStyle:{color:'#222'}},
    axisLabel:Object.assign({customValues:ampTicks,margin:6,hideOverlap:false},label),
    name:'amplitude [K]',nameLocation:'middle',nameRotate:90,nameGap:30,nameMoveOverlap:false,nameTextStyle:label});
  series.push({type:'custom',xAxisIndex:bx,yAxisIndex:by,silent:true,z:2,animation:false,
    data:levelColors.map((c,k)=>[k,k+1]),
    renderItem(p,api){
      const a=api.coord([0,api.value(1)]),b=api.coord([1,api.value(0)]);
      return {type:'rect',shape:{x:a[0],y:a[1],width:b[0]-a[0],height:b[1]-a[1]},style:{fill:levelColors[api.value(0)],stroke:levelColors[api.value(0)],lineWidth:.4}};
    }});
  series.push({type:'custom',xAxisIndex:bx,yAxisIndex:by,silent:true,z:3,animation:false,data:[[0,18]],
    renderItem(p,api){
      const a=api.coord([0,18]),b=api.coord([1,18]),t=api.coord([.5,overValue]),z=api.coord([0,0]),w=api.coord([1,0]);
      return {type:'group',children:[
        {type:'polygon',shape:{points:[a,t,b]},style:{fill:levelColors[17],stroke:'#5a3030',lineWidth:.8}},
        {type:'line',shape:{x1:a[0],y1:a[1],x2:z[0],y2:z[1]},style:{stroke:'#666',lineWidth:1.1}},
        {type:'line',shape:{x1:b[0],y1:b[1],x2:w[0],y2:w[1]},style:{stroke:'#666',lineWidth:1.1}},
        {type:'line',shape:{x1:z[0],y1:z[1],x2:w[0],y2:w[1]},style:{stroke:'#666',lineWidth:1}}
      ]};
    }});
  graphics.push({type:'text',left:10,top:letterTops[n],silent:true,style:{text:panelNames[n],fontFamily:'"Liberation Serif"',fontWeight:'bold',fontSize:22,fill:'#000'}});
}
addPanel(0,dayNodes,ampA,bandA,contoursA);
addPanel(1,dayNodes,ampB,bandB,contoursB);
addPanel(2,dayNodesC,ampC,bandC,contoursC);

const chart=echarts.init(document.getElementById('c'),null,{renderer:'canvas'});
chart.setOption({animation:false,backgroundColor:'#fff',grid:grids,xAxis:xAxes,yAxis:yAxes,series:series,graphic:graphics});
</script></body></html>
